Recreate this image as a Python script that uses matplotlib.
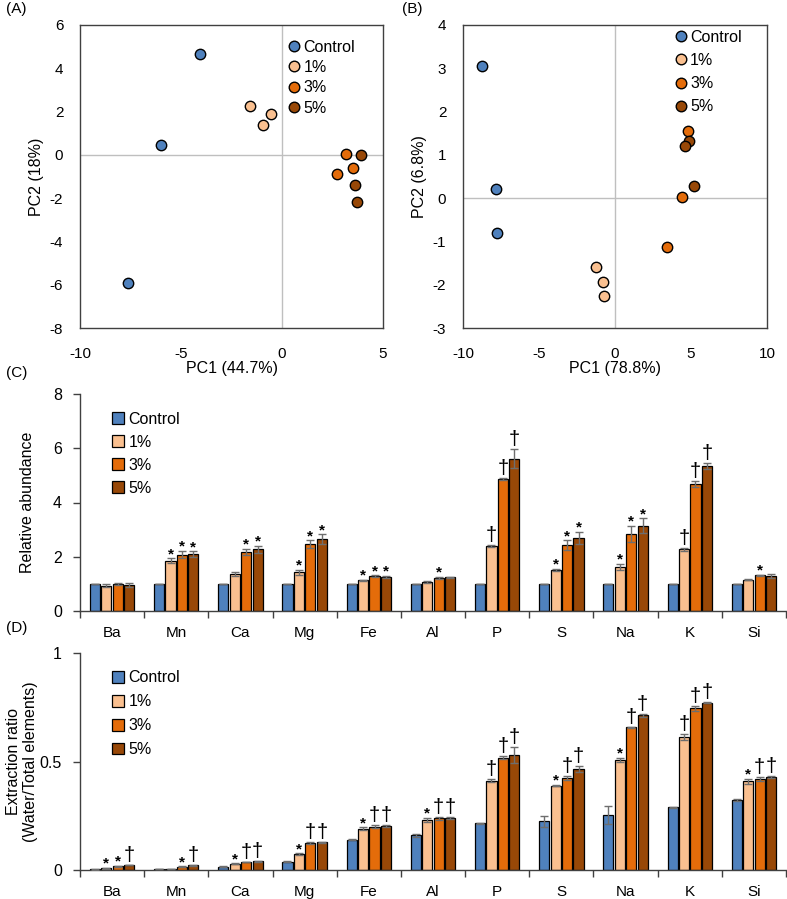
import matplotlib
matplotlib.use("Agg")
import matplotlib.pyplot as plt
from matplotlib.patches import Patch
from matplotlib.lines import Line2D
import numpy as np

plt.rcParams['font.family'] = ['Liberation Sans', 'DejaVu Sans']
plt.rcParams['axes.unicode_minus'] = False

groups = ["Control", "1%", "3%", "5%"]
colors = ["#4F81BD", "#FAC090", "#E46C0A", "#984807"]

# PCA (A)
pcaA_x = {"Control": [-4.04, -6.0, -7.6], "1%": [-1.6, -0.53, -0.92],
          "3%": [3.19, 3.5, 2.74], "5%": [3.93, 3.6, 3.73]}
pcaA_y = {"Control": [4.65, 0.46, -5.94], "1%": [2.26, 1.88, 1.37],
          "3%": [0.06, -0.62, -0.88], "5%": [0.0, -1.39, -2.2]}
# PCA (B)
pcaB_x = {"Control": [-8.77, -7.85, -7.76], "1%": [-1.27, -0.77, -0.7],
          "3%": [4.82, 4.39, 3.42], "5%": [4.87, 4.58, 5.22]}
pcaB_y = {"Control": [3.06, 0.22, -0.81], "1%": [-1.58, -1.93, -2.26],
          "3%": [1.56, 0.02, -1.12], "5%": [1.32, 1.21, 0.27]}

elements = ["Ba", "Mn", "Ca", "Mg", "Fe", "Al", "P", "S", "Na", "K", "Si"]

# (C) Relative abundance
relC = {
    "Control": [1, 1, 1, 1, 1, 1, 1, 1, 1, 1, 1],
    "1%": [0.93, 1.85, 1.35, 1.42, 1.13, 1.07, 2.40, 1.51, 1.63, 2.27, 1.15],
    "3%": [1.00, 2.08, 2.18, 2.47, 1.28, 1.22, 4.87, 2.43, 2.85, 4.68, 1.31],
    "5%": [0.97, 2.10, 2.28, 2.65, 1.26, 1.24, 5.62, 2.69, 3.14, 5.35, 1.28],
}
relC_err = {
    "Control": [0]*11,
    "1%": [0.06, 0.09, 0.07, 0.10, 0.03, 0.02, 0.03, 0.04, 0.12, 0.04, 0.02],
    "3%": [0.05, 0.13, 0.12, 0.13, 0.03, 0.03, 0.05, 0.18, 0.30, 0.12, 0.03],
    "5%": [0.07, 0.10, 0.13, 0.18, 0.03, 0.03, 0.35, 0.22, 0.28, 0.10, 0.07],
}
markC = {
    "Control": [""]*11,
    "1%": ["", "*", "", "*", "*", "", "†", "*", "*", "†", ""],
    "3%": ["", "*", "*", "*", "*", "*", "†", "*", "*", "†", "*"],
    "5%": ["", "*", "*", "*", "*", "", "†", "*", "*", "†", ""],
}

# (D) Extraction ratio
extD = {
    "Control": [0.003, 0.005, 0.016, 0.038, 0.140, 0.160, 0.215, 0.225, 0.252, 0.290, 0.323],
    "1%": [0.007, 0.005, 0.028, 0.072, 0.190, 0.230, 0.412, 0.388, 0.506, 0.612, 0.408],
    "3%": [0.018, 0.015, 0.037, 0.126, 0.200, 0.238, 0.518, 0.423, 0.657, 0.745, 0.420],
    "5%": [0.023, 0.022, 0.040, 0.128, 0.203, 0.240, 0.530, 0.465, 0.712, 0.771, 0.430],
}
extD_err = {
    "Control": [0.001, 0.001, 0.002, 0.003, 0.003, 0.006, 0.003, 0.025, 0.042, 0.002, 0.006],
    "1%": [0.002, 0.001, 0.002, 0.005, 0.007, 0.010, 0.008, 0.003, 0.010, 0.015, 0.012],
    "3%": [0.002, 0.002, 0.002, 0.004, 0.008, 0.008, 0.006, 0.010, 0.004, 0.013, 0.010],
    "5%": [0.002, 0.002, 0.002, 0.003, 0.006, 0.005, 0.035, 0.012, 0.005, 0.002, 0.005],
}
markD = {
    "Control": [""]*11,
    "1%": ["*", "", "*", "*", "*", "*", "†", "*", "*", "†", "*"],
    "3%": ["*", "*", "†", "†", "†", "†", "†", "†", "†", "†", "†"],
    "5%": ["†", "†", "†", "†", "†", "†", "†", "†", "†", "†", "†"],
}

W, H = 787, 899
fig = plt.figure(figsize=(W/100, H/100), dpi=100)

def ax_px(l, t, r, b):
    return fig.add_axes([l/W, 1-b/H, (r-l)/W, (b-t)/H])

def scatter_panel(ax, xs, ys, xlim, ylim, xticks, yticks, xlabel, ylabel, leg_anchor, leg_spacing):
    ax.axhline(0, color="#BFBFBF", lw=1.0, zorder=1)
    ax.axvline(0, color="#BFBFBF", lw=1.0, zorder=1)
    for g, c in zip(groups, colors):
        ax.scatter(xs[g], ys[g], s=56, color=c, edgecolor="black", linewidth=1.0, zorder=3)
    ax.set_xlim(*xlim)
    ax.set_ylim(*ylim)
    ax.set_xticks(xticks)
    ax.set_yticks(yticks)
    ax.tick_params(length=0, labelsize=11, colors="black")
    ax.tick_params(axis="y", pad=12)
    ax.tick_params(axis="x", pad=14)
    for s in ax.spines.values():
        s.set_color("#404040")
        s.set_linewidth(1.0)
    ax.set_xlabel(xlabel, fontsize=11.5, labelpad=0)
    ax.set_ylabel(ylabel, fontsize=11.5, labelpad=4)
    handles = [Line2D([], [], marker="o", linestyle="", markersize=7.6, markerfacecolor=c,
                      markeredgecolor="black", markeredgewidth=1.0, label=g)
               for g, c in zip(groups, colors)]
    ax.legend(handles=handles, loc="upper left", bbox_to_anchor=leg_anchor, frameon=False,
              fontsize=11.5, handlelength=0.6, handletextpad=0.3, labelspacing=leg_spacing,
              borderaxespad=0, borderpad=0)

axA = ax_px(80, 25, 383, 328)
scatter_panel(axA, pcaA_x, pcaA_y, (-10, 5), (-8, 6), [-10, -5, 0, 5], list(range(-8, 7, 2)),
              "PC1 (44.7%)", "PC2 (18%)", (0.69, 0.952), 0.34)
axB = ax_px(463, 25, 767, 328)
scatter_panel(axB, pcaB_x, pcaB_y, (-10, 10), (-3, 4), [-10, -5, 0, 5, 10], list(range(-3, 5)),
              "PC1 (78.8%)", "PC2 (6.8%)", (0.70, 0.985), 0.52)

def bar_panel(ax, vals, errs, marks, ylim, yticks, yticklabels, ylabel, leg_anchor, leg_spacing, ylabelpad):
    x = np.arange(len(elements))
    offs = [-0.267, -0.089, 0.089, 0.267]
    for g, c, o in zip(groups, colors, offs):
        v = np.array(vals[g]); e = np.array(errs[g])
        ax.bar(x + o, v, width=0.158, color=c, edgecolor="black", linewidth=0.9, zorder=2)
        ax.errorbar(x + o, v, yerr=e, fmt="none", ecolor="#6E6E6E", elinewidth=1.0,
                    capsize=3, capthick=1.0, zorder=3)
        for i, m in enumerate(marks[g]):
            if m:
                if m == "*":
                    ax.annotate(m, (x[i] + o, v[i] + e[i]), xytext=(0, -2), textcoords="offset points",
                                ha="center", va="bottom", fontsize=11, fontweight="bold", zorder=4)
                else:
                    ax.annotate(m, (x[i] + o, v[i] + e[i]), xytext=(0, 0), textcoords="offset points",
                                ha="center", va="bottom", fontsize=14.5, zorder=4)
    ax.set_xlim(-0.5, len(elements) - 0.5)
    ax.set_ylim(*ylim)
    ax.set_yticks(yticks)
    ax.set_yticklabels(yticklabels)
    ax.set_xticks(x)
    ax.set_xticklabels(elements)
    ax.set_xticks(np.arange(-0.5, len(elements)), minor=True)
    ax.tick_params(axis="x", which="major", length=0, pad=11, labelsize=11)
    ax.tick_params(axis="x", which="minor", length=5, width=1.0, direction="out", color="#404040")
    ax.tick_params(axis="y", length=5, width=1.0, direction="out", color="#404040", pad=8, labelsize=11.5)
    ax.spines["top"].set_visible(False)
    ax.spines["right"].set_visible(False)
    for s in ("left", "bottom"):
        ax.spines[s].set_color("#404040")
        ax.spines[s].set_linewidth(1.0)
    ax.set_ylabel(ylabel, fontsize=11.5, labelpad=ylabelpad)
    handles = [Patch(facecolor=c, edgecolor="black", linewidth=0.9, label=g) for g, c in zip(groups, colors)]
    ax.legend(handles=handles, loc="upper left", bbox_to_anchor=leg_anchor, frameon=False,
              fontsize=11.5, handlelength=0.75, handleheight=0.75, handletextpad=0.3,
              labelspacing=leg_spacing, borderaxespad=0, borderpad=0)

axC = ax_px(80, 394, 786, 611)
bar_panel(axC, relC, relC_err, markC, (0, 8), [0, 2, 4, 6, 8], ["0", "2", "4", "6", "8"],
          "Relative abundance", (0.045, 0.918), 0.5, 13)
axD = ax_px(80, 653, 786, 870)
bar_panel(axD, extD, extD_err, markD, (0, 1), [0, 0.5, 1], ["0", "0.5", "1"],
          "Extraction ratio\n(Water/Total elements)", (0.045, 0.92), 0.56, 1)

for lab, (px, py) in {"(A)": (6, 2), "(B)": (402, 2), "(C)": (6, 366), "(D)": (6, 621)}.items():
    fig.text(px/W, 1-py/H, lab, ha="left", va="top", fontsize=11)

fig.savefig("out.png", dpi=100)
